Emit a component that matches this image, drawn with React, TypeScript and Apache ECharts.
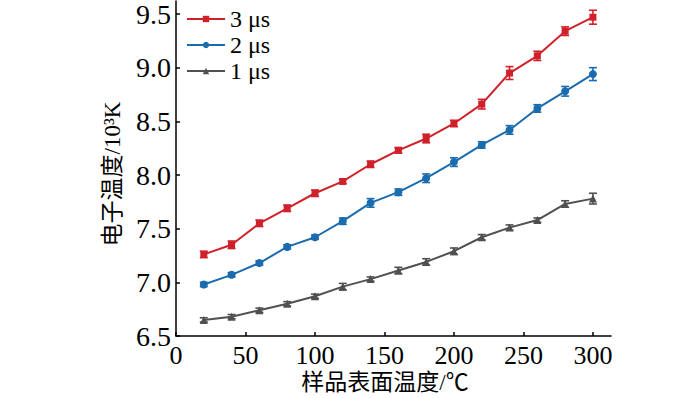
import React, { useEffect, useRef } from "react";
import * as echarts from "echarts";

const xValues = [20, 40, 60, 80, 100, 120, 140, 160, 180, 200, 220, 240, 260, 280, 300];
const t3 = [7.26, 7.35, 7.55, 7.69, 7.83, 7.94, 8.1, 8.23, 8.34, 8.48, 8.66, 8.95, 9.11, 9.34, 9.47];
const e3 = [0.03, 0.035, 0.03, 0.03, 0.03, 0.02, 0.03, 0.025, 0.04, 0.03, 0.045, 0.06, 0.043, 0.04, 0.065];
const t2 = [6.98, 7.07, 7.18, 7.33, 7.42, 7.57, 7.74, 7.84, 7.97, 8.12, 8.28, 8.42, 8.62, 8.78, 8.94];
const e2 = [0.02, 0.02, 0.02, 0.02, 0.02, 0.03, 0.04, 0.03, 0.04, 0.04, 0.03, 0.04, 0.035, 0.045, 0.06];
const t1 = [6.65, 6.68, 6.74, 6.8, 6.87, 6.96, 7.03, 7.11, 7.19, 7.29, 7.42, 7.51, 7.58, 7.73, 7.78];
const e1 = [0.02, 0.02, 0.02, 0.02, 0.02, 0.03, 0.02, 0.03, 0.03, 0.03, 0.025, 0.025, 0.02, 0.03, 0.05];
const xTicks = [0, 50, 100, 150, 200, 250, 300];
const yTicks = [6.5, 7.0, 7.5, 8.0, 8.5, 9.0, 9.5];

const seriesNames = ["3 μs", "2 μs", "1 μs"];
const colors = ["#d0212b", "#1b6cae", "#505050"];
const symbols = ["rect", "circle", "triangle"];
const symbolSizes = [7, 8, 8];

const FONT = "Liberation Serif";
const CJK_FONT = "Liberation Serif, Noto Sans CJK SC";

export default function App() {
  const ref = useRef<HTMLDivElement>(null);
  useEffect(() => {
    if (!ref.current) return;
    const chart = echarts.init(ref.current, undefined, { renderer: "svg" });
    const values = [t3, t2, t1];
    const errs = [e3, e2, e1];
    const series: any[] = [];
    values.forEach((vals, i) => {
      series.push({
        name: seriesNames[i],
        type: "line",
        data: xValues.map((x, j) => [x, vals[j]]),
        symbol: symbols[i],
        symbolSize: symbolSizes[i],
        itemStyle: { color: colors[i] },
        lineStyle: { color: colors[i], width: 2 },
        z: 3,
      });
      series.push({
        name: seriesNames[i] + " err",
        type: "custom",
        data: xValues.map((x, j) => [x, vals[j] - errs[i][j], vals[j] + errs[i][j]]),
        encode: { x: 0, y: [1, 2] },
        z: 4,
        renderItem: (params: any, api: any) => {
          const x = api.value(0);
          const top = api.coord([x, api.value(2)]);
          const bot = api.coord([x, api.value(1)]);
          const half = 4;
          const st = { stroke: colors[i], lineWidth: 1.6 };
          return {
            type: "group",
            children: [
              { type: "line", shape: { x1: top[0], y1: top[1], x2: bot[0], y2: bot[1] }, style: st },
              { type: "line", shape: { x1: top[0] - half, y1: top[1], x2: top[0] + half, y2: top[1] }, style: st },
              { type: "line", shape: { x1: bot[0] - half, y1: bot[1], x2: bot[0] + half, y2: bot[1] }, style: st },
            ],
          };
        },
      });
    });

    chart.setOption({
      animation: false,
      backgroundColor: "#ffffff",
      textStyle: { fontFamily: FONT },
      grid: { left: 176, right: 89, top: 0, bottom: 62, containLabel: false },
      legend: {
        data: seriesNames,
        orient: "vertical",
        left: 181,
        top: 2,
        itemWidth: 38,
        itemHeight: 8,
        itemGap: 2,
        textStyle: { fontFamily: FONT, fontSize: 24, color: "#000" },
      },
      xAxis: {
        type: "value",
        min: 0,
        max: 313,
        splitLine: { show: false },
        axisLine: { lineStyle: { color: "#000", width: 1.5 } },
        axisTick: { inside: true, length: 4, customValues: xTicks, lineStyle: { color: "#000", width: 1.5 } },
        axisLabel: { customValues: xTicks, color: "#000", fontSize: 26, fontFamily: FONT, margin: 6 },
      },
      yAxis: {
        type: "value",
        min: 6.5,
        max: 9.62,
        splitLine: { show: false },
        axisLine: { show: true, lineStyle: { color: "#000", width: 1.5 } },
        axisTick: { show: true, inside: true, length: 4, customValues: yTicks, lineStyle: { color: "#000", width: 1.5 } },
        axisLabel: {
          customValues: yTicks,
          color: "#000",
          fontSize: 28,
          fontFamily: FONT,
          margin: 5,
          formatter: (v: number) => v.toFixed(1),
        },
      },
      graphic: [
        {
          type: "text",
          x: 385,
          y: 382,
          style: {
            text: "样品表面温度/℃",
            fontSize: 23,
            fontFamily: CJK_FONT,
            fill: "#000",
            align: "center",
            verticalAlign: "middle",
          },
        },
        {
          type: "text",
          x: 112,
          y: 174,
          rotation: Math.PI / 2,
          style: {
            text: "电子温度/10³K",
            fontSize: 23,
            fontFamily: CJK_FONT,
            fill: "#000",
            align: "center",
            verticalAlign: "middle",
          },
        },
      ],
      series,
    });
    return () => chart.dispose();
  }, []);
  return (
    <div
      ref={ref}
      style={{ width: 700, height: 398, position: "absolute", left: 0, top: 0 }}
    />
  );
}
